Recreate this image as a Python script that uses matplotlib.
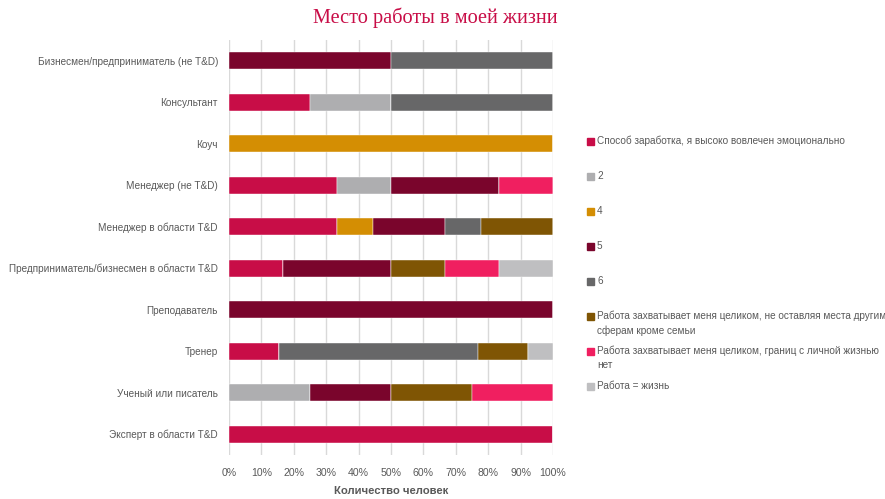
import matplotlib
matplotlib.use("Agg")
import matplotlib.pyplot as plt
from matplotlib.patches import Rectangle
import numpy as np

categories = [
    "Бизнесмен/предприниматель (не T&D)",
    "Консультант",
    "Коуч",
    "Менеджер (не T&D)",
    "Менеджер в области T&D",
    "Предприниматель/бизнесмен в области T&D",
    "Преподаватель",
    "Тренер",
    "Ученый или писатель",
    "Эксперт в области T&D",
]
series_names = [
    "Способ заработка, я высоко вовлечен эмоционально",
    "2",
    "4",
    "5",
    "6",
    "Работа захватывает меня целиком, не оставляя места другим\nсферам кроме семьи",
    "Работа захватывает меня целиком, границ с личной жизнью\nнет",
    "Работа = жизнь",
]
# counts per category (rows) for each series (columns)
counts = np.array([
    [0, 0, 0, 1, 1, 0, 0, 0],
    [1, 1, 0, 0, 2, 0, 0, 0],
    [0, 0, 1, 0, 0, 0, 0, 0],
    [2, 1, 0, 2, 0, 0, 1, 0],
    [3, 0, 1, 2, 1, 2, 0, 0],
    [1, 0, 0, 2, 0, 1, 1, 1],
    [0, 0, 0, 1, 0, 0, 0, 0],
    [2, 0, 0, 0, 8, 2, 0, 1],
    [0, 1, 0, 1, 0, 1, 1, 0],
    [1, 0, 0, 0, 0, 0, 0, 0],
], dtype=float)
colors = ["#C80D47", "#AEAEB0", "#D48E03", "#7A052C", "#676768",
          "#7F5504", "#F01F60", "#BFBFC1"]

xticks = [0, 10, 20, 30, 40, 50, 60, 70, 80, 90, 100]
xtick_labels = [f"{t}%" for t in xticks]

fam = ["Liberation Sans", "DejaVu Sans"]
gray = "#595959"

fig = plt.figure(figsize=(8.85, 4.99), dpi=100)
W, H = 885, 499
ax = fig.add_axes([229 / W, 1 - 455 / H, (553 - 229) / W, (455 - 40) / H])

pct = counts / counts.sum(axis=1, keepdims=True) * 100
y = np.arange(len(categories))
left = np.zeros(len(categories))
for j, name in enumerate(series_names):
    ax.barh(y, pct[:, j], left=left, height=0.41, color=colors[j],
            edgecolor="white", linewidth=0.3, zorder=3)
    left += pct[:, j]

ax.set_xlim(0, 100)
ax.set_ylim(len(categories) - 0.5, -0.5)
ax.set_xticks(xticks)
ax.set_xticklabels(xtick_labels, family=fam, fontsize=7.6, color=gray)
ax.set_yticks(y)
ax.set_yticklabels(categories, family=fam, fontsize=7.2, color=gray)
ax.tick_params(axis="y", length=0, pad=8)
ax.tick_params(axis="x", length=0, pad=9)
ax.grid(axis="x", color="#D9D9D9", linewidth=1, zorder=0)
for s in ax.spines.values():
    s.set_visible(False)
ax.set_xlabel("Количество человек", family=fam, fontsize=8.1,
              color=gray, fontweight="bold", labelpad=6)

fig.text(435 / W, 1 - 18 / H, "Место работы в моей жизни",
         family=["Liberation Serif", "DejaVu Serif"], fontsize=14.6,
         color="#C80D47", ha="center", va="center")

# legend
ys = [141, 176, 211, 246, 281, 316, 351, 386]
for j, name in enumerate(series_names):
    yc = ys[j]
    fig.patches.append(Rectangle((587 / W, 1 - (yc + 3.5) / H), 7 / W, 7 / H,
                                 transform=fig.transFigure, color=colors[j]))
    fig.text(597 / W, 1 - (yc - 5) / H, name, family=fam, fontsize=7.2,
             color=gray, ha="left", va="top", linespacing=1.45)

fig.savefig("out.png", dpi=100)
